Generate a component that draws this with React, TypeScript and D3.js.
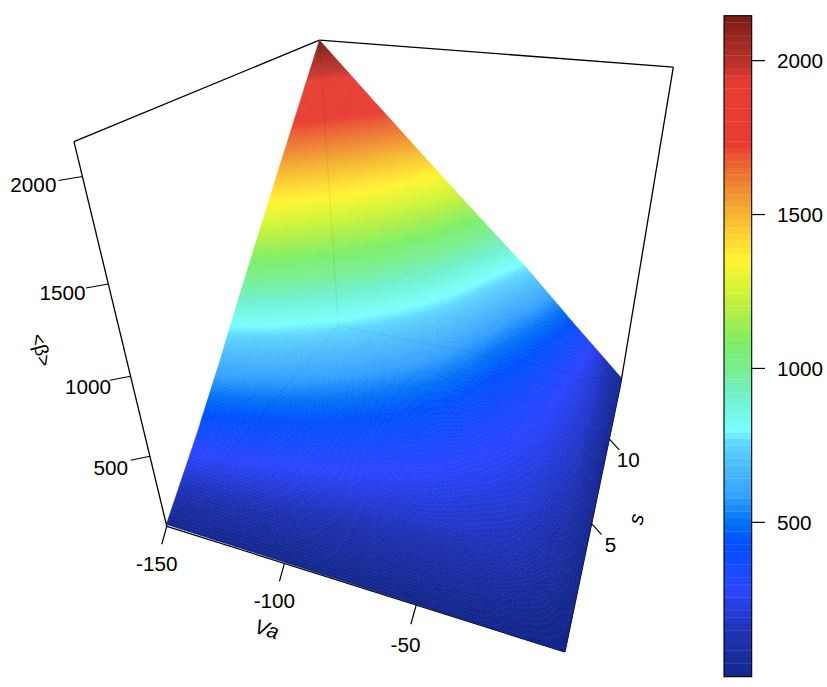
import React from "react";
import * as d3 from "d3";

const W = 827, H = 687;

// ---- Data ----
const vaValues = [-150, -125, -100, -75, -50, -25, -10, 0];
const sValues = [-0.5, 2, 4, 6, 8, 10, 12, 14.2];
// beta[sIndex][vaIndex]
const betaAtS0 = [14, 11, 9, 6, 3, 1, 0, 0];
const betaAtS2 = [350, 300, 245, 210, 185, 155, 90, 4];
const betaAtS4 = [640, 540, 435, 335, 265, 210, 130, 8];
const betaAtS6 = [945, 790, 630, 475, 325, 245, 165, 12];
const betaAtS8 = [1240, 1035, 825, 620, 400, 270, 185, 18];
const betaAtS10 = [1536, 1284, 1030, 775, 485, 295, 195, 24];
const betaAtS12 = [1826, 1527, 1229, 930, 595, 330, 195, 30];
const betaAtS14 = [2146, 1795, 1450, 1105, 770, 400, 185, 40];
const betaRows = [betaAtS0, betaAtS2, betaAtS4, betaAtS6, betaAtS8, betaAtS10, betaAtS12, betaAtS14];

const zTicks = [500, 1000, 1500, 2000];
const vaTicks = [-150, -100, -50];
const sTicks = [5, 10];
const barTicks = [500, 1000, 1500, 2000];
const zDomain: [number, number] = [-1.5, 2146];

// palette: level value -> colour
const paletteValues = [-1.5, 150, 280, 433, 500, 585, 695, 758, 800, 910, 1000, 1082, 1200, 1255, 1352, 1420, 1500, 1580, 1660, 1710, 1725, 1937, 1970, 2050, 2146];
const paletteColors = ["#14278a", "#1f33b5", "#2c46ff", "#0050ff", "#0070f5", "#35a0ff", "#50c0fa", "#5fd5ff", "#78ffff", "#70f0cc", "#78ee90", "#7cee68", "#b8f040", "#d4f535", "#fff430", "#fcd830", "#f5b530", "#ef8c31", "#ea6630", "#e84a30", "#e83c32", "#e83c32", "#c5352c", "#a32b24", "#7a1c16"];
const nLevels = 100;
const nSurfaceLevels = 300;

// box corner anchors: [va, s, z] normalised -> screen
const boxAnchors: [number, number, number, number, number][] = [
  [0, 0, 0, 167, 526],
  [1, 0, 0, 565, 652],
  [1, 1, 0, 621, 383],
  [0, 1, 0, 338, 326],
  [0, 0, 1, 73.5, 142],
  [0, 1, 1, 320, 40],
  [1, 1, 1, 673, 67],
];

function solve(A: number[][], b: number[]) {
  const n = b.length;
  const M = A.map((r, i) => [...r, b[i]]);
  for (let i = 0; i < n; i++) {
    let p = i;
    for (let k = i + 1; k < n; k++) if (Math.abs(M[k][i]) > Math.abs(M[p][i])) p = k;
    [M[i], M[p]] = [M[p], M[i]];
    for (let k = i + 1; k < n; k++) {
      const f = M[k][i] / M[i][i];
      for (let j = i; j <= n; j++) M[k][j] -= f * M[i][j];
    }
  }
  const x = new Array(n).fill(0);
  for (let i = n - 1; i >= 0; i--) {
    let t = M[i][n];
    for (let j = i + 1; j < n; j++) t -= M[i][j] * x[j];
    x[i] = t / M[i][i];
  }
  return x;
}

function fitCamera() {
  const rows: number[][] = [];
  const rhs: number[] = [];
  for (const [X, Y, Z, x, y] of boxAnchors) {
    rows.push([X, Y, Z, 1, 0, 0, 0, 0, -x * X, -x * Y, -x * Z]);
    rhs.push(x);
    rows.push([0, 0, 0, 0, X, Y, Z, 1, -y * X, -y * Y, -y * Z]);
    rhs.push(y);
  }
  const A = d3.range(11).map((i) => d3.range(11).map((j) => d3.sum(rows, (r) => r[i] * r[j])));
  const b = d3.range(11).map((i) => d3.sum(rows, (r, k) => r[i] * rhs[k]));
  return solve(A, b);
}

const cam = fitCamera();
const S_MIN = sValues[0], S_MAX = sValues[sValues.length - 1];
const vaN = d3.scaleLinear().domain([-150, 0]).range([0, 1]);
const sN = d3.scaleLinear().domain([S_MIN, S_MAX]).range([0, 1]);
const zN = d3.scaleLinear().domain([0, 2146]).range([0, 1]);

function proj(X: number, Y: number, Z: number): [number, number] {
  const d = cam[8] * X + cam[9] * Y + cam[10] * Z + 1;
  return [(cam[0] * X + cam[1] * Y + cam[2] * Z + cam[3]) / d, (cam[4] * X + cam[5] * Y + cam[6] * Z + cam[7]) / d];
}
const pt = (va: number, s: number, z: number) => proj(vaN(va), sN(s), zN(z));

const vaIdx = d3.scaleLinear().domain(vaValues).range(vaValues.map((_, i) => i));
const sIdx = d3.scaleLinear().domain(sValues).range(sValues.map((_, i) => i));

function beta(va: number, s: number) {
  const a = vaIdx(va), b = sIdx(s);
  const i = Math.min(Math.floor(a), vaValues.length - 2), j = Math.min(Math.floor(b), sValues.length - 2);
  const fa = a - i, fb = b - j;
  const top = d3.interpolateNumber(betaRows[j][i], betaRows[j][i + 1])(fa);
  const bot = d3.interpolateNumber(betaRows[j + 1][i], betaRows[j + 1][i + 1])(fa);
  return d3.interpolateNumber(top, bot)(fb);
}

const colorOf = d3.scaleLinear<string>().domain(paletteValues).range(paletteColors).interpolate(d3.interpolateRgb);
const levelColorsFor = (n: number) => d3.range(n).map((i) => colorOf(zDomain[0] + ((i + 0.5) / n) * (zDomain[1] - zDomain[0])));
const levelColors = levelColorsFor(nLevels);
const surfaceColors = levelColorsFor(nSurfaceLevels);
const levelScale = d3.scaleQuantize<number>().domain(zDomain).range(d3.range(nSurfaceLevels));

function surfacePaths() {
  const nx = 170, ny = 170;
  const paths: string[] = surfaceColors.map(() => "");
  const vaS = d3.scaleLinear().domain([0, nx]).range([-150, 0]);
  const sS = d3.scaleLinear().domain([0, ny]).range([S_MIN, S_MAX]);
  const f = (n: number) => n.toFixed(1);
  for (let i = 0; i < nx; i++) {
    for (let j = 0; j < ny; j++) {
      const corners = [[i, j], [i + 1, j], [i + 1, j + 1], [i, j + 1]].map(([a, b]) => {
        const va = vaS(a), s = sS(b);
        return pt(va, s, beta(va, s));
      });
      const lvl = levelScale(beta(vaS(i + 0.5), sS(j + 0.5)));
      paths[lvl] += "M" + corners.map((c) => f(c[0]) + "," + f(c[1])).join("L") + "Z";
    }
  }
  return paths;
}

const FONT = "'Liberation Sans', Arial, sans-serif";
const FS = 20.7;

function Seg({ a, b, w = 1.3, o = 1 }: { a: [number, number]; b: [number, number]; w?: number; o?: number }) {
  return <line x1={a[0]} y1={a[1]} x2={b[0]} y2={b[1]} stroke="#000" strokeWidth={w} strokeOpacity={o} />;
}

export default function App() {
  const paths = React.useMemo(surfacePaths, []);
  const barY = d3.scaleLinear().domain(zDomain).range([676.7, 15.7]);
  const A = pt(-150, S_MIN, 0), B = pt(0, S_MIN, 0), C = pt(0, S_MAX, 0), D = pt(-150, S_MAX, 0);
  const E = pt(-150, S_MIN, 2146), F = pt(-150, S_MAX, 2146), G = pt(0, S_MAX, 2146);
  const barLevels = d3.range(nLevels);
  const barStep = (barY(zDomain[0]) - barY(zDomain[1])) / nLevels;
  // label distance grows towards the viewer
  const zReach = d3.scaleLinear().domain([500, 2000]).range([0.8, 1]);
  const vaReach = d3.scaleLinear().domain([-150, -100, -50]).range([1, 1, 1.07]);

  return (
    <svg width={W} height={H} viewBox={`0 0 ${W} ${H}`} style={{ position: "absolute", left: 0, top: 0, background: "#fff" }} fontFamily={FONT} fontSize={FS} fill="#000">
      {/* back panels */}
      <Seg a={A} b={E} />
      <Seg a={E} b={F} />
      <Seg a={F} b={G} />
      <Seg a={G} b={C} />
      <Seg a={A} b={B} />
      <Seg a={B} b={C} />
      {/* surface */}
      <g>
        {paths.map((d, i) => (d ? <path key={i} d={d} fill={surfaceColors[i]} stroke={surfaceColors[i]} strokeWidth={0.5} /> : null))}
      </g>
      {/* faint box lines through the surface */}
      <Seg a={D} b={A} w={1} o={0.07} />
      <Seg a={D} b={C} w={1} o={0.07} />
      <Seg a={D} b={F} w={1} o={0.07} />
      {/* z axis */}
      {zTicks.map((t) => {
        const p = pt(-150, S_MIN, t);
        const k = zReach(t);
        return (
          <g key={t}>
            <line x1={p[0]} y1={p[1]} x2={p[0] - 24 * k} y2={p[1] + 4} stroke="#000" strokeWidth={1.2} />
            <text x={p[0] - 49 * k} y={p[1] + 8 + (1 - k) * 18} dy="0.35em" textAnchor="middle">{t}</text>
          </g>
        );
      })}
      {/* Va axis */}
      {vaTicks.map((t) => {
        const p = pt(t, S_MIN, 0);
        const k = vaReach(t);
        return (
          <g key={t}>
            <line x1={p[0]} y1={p[1]} x2={p[0] - 5 * k} y2={p[1] + 18 * k} stroke="#000" strokeWidth={1.2} />
            <text x={p[0] - 10 * k} y={p[1] + 37 * k} dy="0.35em" textAnchor="middle">{t}</text>
          </g>
        );
      })}
      {/* s axis */}
      {sTicks.map((t) => {
        const p = pt(0, t, 0);
        return (
          <g key={t}>
            <line x1={p[0]} y1={p[1]} x2={p[0] + 10} y2={p[1] + 11} stroke="#000" strokeWidth={1.2} />
            <text x={p[0] + 19} y={p[1] + 21} dy="0.35em" textAnchor="middle">{t}</text>
          </g>
        );
      })}
      <text transform="translate(267,629) rotate(17)" textAnchor="middle" dy="0.35em" fontStyle="italic" fontSize={20.5}>Va</text>
      <text transform="translate(636,519) rotate(-78)" textAnchor="middle" dy="0.35em" fontStyle="italic" fontSize={21}>s</text>
      <text transform="translate(41.5,350) rotate(75)" textAnchor="middle" dy="0.35em" fontSize={19}>{"<β>"}</text>

      {/* colour bar */}
      {barLevels.map((i) => (
        <rect key={i} x={724} width={27.7} y={barY(zDomain[0]) - (i + 1) * barStep} height={barStep + 0.3} fill={levelColors[i]} />
      ))}
      <rect x={724} y={15.7} width={27.7} height={661} fill="none" stroke="#000" strokeWidth={1.1} />
      {barTicks.map((t) => (
        <g key={t}>
          <line x1={751.7} x2={765} y1={barY(t)} y2={barY(t)} stroke="#000" strokeWidth={1.2} />
          <text x={777} y={barY(t)} dy="0.35em">{t}</text>
        </g>
      ))}
    </svg>
  );
}
